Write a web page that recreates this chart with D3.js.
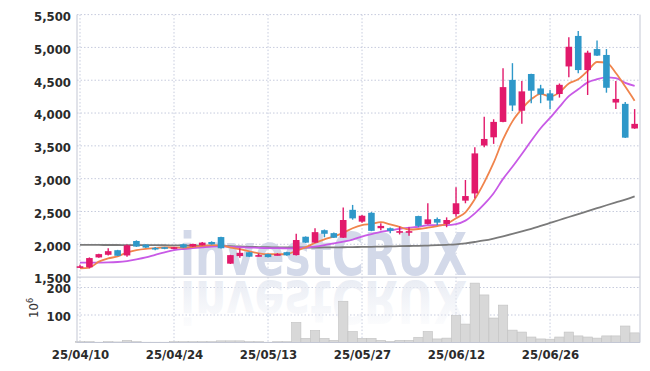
<!DOCTYPE html>
<html>
<head>
<meta charset="utf-8">
<script src="https://cdn.jsdelivr.net/npm/d3@7"></script>
<style>
  body { margin: 0; background: #fff; }
  svg { display: block; }
  .tick text { font-family: "DejaVu Sans Condensed", "DejaVu Sans", sans-serif; font-stretch: condensed; font-weight: bold; font-size: 13px; fill: #2b2b2b; }
</style>
</head>
<body>
<div id="chart"></div>
<script>
// trading days, 25/04/10 .. 25/07/09
var dates = ["25/04/10","25/04/11","25/04/14","25/04/15","25/04/16","25/04/17","25/04/18","25/04/21","25/04/22","25/04/23",
  "25/04/24","25/04/25","25/04/28","25/04/29","25/04/30","25/05/02","25/05/07","25/05/08","25/05/09","25/05/12",
  "25/05/13","25/05/14","25/05/15","25/05/16","25/05/19","25/05/20","25/05/21","25/05/22","25/05/23","25/05/26",
  "25/05/27","25/05/28","25/05/29","25/05/30","25/06/02","25/06/04","25/06/05","25/06/09","25/06/10","25/06/11",
  "25/06/12","25/06/13","25/06/16","25/06/17","25/06/18","25/06/19","25/06/20","25/06/23","25/06/24","25/06/25",
  "25/06/26","25/06/27","25/06/30","25/07/01","25/07/02","25/07/03","25/07/04","25/07/07","25/07/08","25/07/09"];

var open  = [1655,1650,1800,1840,1910,1830,2050,1995,1945,1955, 1930,2000,1965,1985,2035,2110,1705,1820,1878,1820,
             1850,1840,1880,1835,2115,2025,2215,2170,2100,2525, 2345,2480,2245,2245,2190,2185,2430,2310,2385,2310,
             2460,2665,2775,3505,3630,3865,4505,4035,4595,4375, 4300,4290,4710,5175,4655,4975,4885,4160,4140,3765];
var high  = [1690,1800,1855,1940,1915,1995,2060,2000,1960,1960, 1960,2010,2010,2035,2045,2115,1840,1940,1885,1860,
             1855,1865,1885,2160,2120,2245,2225,2180,2560,2600, 2445,2490,2320,2255,2270,2260,2435,2625,2410,2410,
             2870,2980,3480,3945,3905,4683,4760,4490,4600,4430, 4350,4450,5155,5250,4950,5105,4975,4490,4170,4060];
var low   = [1640,1634,1795,1830,1820,1811,1960,1945,1910,1925, 1925,1945,1960,1980,1995,1935,1700,1795,1805,1815,
             1800,1830,1825,1830,2020,2020,2107,2095,2095,2375, 2330,2200,2215,2170,2150,2130,2260,2300,2290,2260,
             2420,2625,2700,3480,3530,3860,4030,3835,4150,4150, 4060,4235,4545,4605,4275,4870,4310,4060,3620,3760];
var close = [1665,1790,1850,1895,1825,1985,1965,1950,1930,1935, 1955,1950,2005,2025,2000,1940,1835,1870,1811,1835,
             1805,1850,1832,2065,2025,2185,2160,2100,2370,2395, 2435,2205,2280,2205,2200,2200,2280,2380,2330,2370,
             2625,2735,3385,3605,3865,4395,4115,4330,4340,4285, 4190,4430,5010,4655,4920,4875,4385,4215,3625,3835];

// volume, millions of shares
var volume = [3,3,1,3,2,8,3,1,1,1, 3,3,3,3,3,6,6,6,3,3,
              1,3,3,73,15,44,15,8,150,40, 15,15,8,4,8,8,19,40,13,16,
              98,67,216,173,89,136,45,38,20,13, 12,20,38,24,20,16,24,24,60,35];

// moving averages
var ma5  = [1635,1645,1735,1785,1815,1875,1910,1930,1940,1953, 1950,1948,1958,1975,1987,1982,1950,1925,1892,1862,
            1848,1848,1852,1900,1955,2020,2075,2120,2175,2245, 2292,2310,2337,2304,2265,2225,2233,2253,2278,2312,
            2397,2488,2689,2944,3243,3597,3873,4062,4209,4293, 4252,4315,4451,4514,4641,4778,4769,4610,4404,4187];
var ma10 = [1720,1720,1721,1723,1730,1745,1770,1800,1840,1878, 1910,1928,1942,1955,1966,1967,1960,1955,1950,1946,
            1942,1940,1939,1942,1950,1965,1988,2015,2040,2072, 2118,2155,2190,2212,2235,2252,2267,2290,2292,2292,
            2308,2361,2471,2611,2778,2997,3181,3376,3577,3768, 3925,4094,4257,4362,4467,4515,4542,4531,4459,4414];
var ma60 = [1990,1990,1990,1989,1989,1988,1988,1987,1986,1985, 1984,1982,1980,1978,1976,1973,1970,1966,1962,1958,
            1955,1953,1952,1951,1951,1951,1952,1953,1955,1957, 1960,1962,1965,1968,1971,1974,1977,1981,1986,1992,
            2000,2015,2035,2058,2088,2122,2158,2196,2236,2280, 2325,2370,2416,2460,2505,2550,2595,2638,2680,2730];

var priceTicks = [1500,2000,2500,3000,3500,4000,4500,5000,5500];
var volTicks = [100,200];
var dateTicks = [0,10,20,30,40,50];

var width = 650, height = 371;
var plotLeft = 77, plotRight = 640, plotTop = 14.6, split = 277.1, plotBottom = 342.5;

var svg = d3.select("#chart").append("svg")
    .attr("width", width)
    .attr("height", height);

var x = d3.scaleLinear().domain([-0.32, 59.57]).range([plotLeft, plotRight]);
var y = d3.scaleLinear().domain([1500, 5500]).range([split, plotTop]);
var yv = d3.scaleLinear().domain([0, 200]).range([plotBottom, plotBottom - 55]);
var step = x(1) - x(0);

var up = "#e2196b", down = "#2e98c9", grid = "#c6cbdd";

// gridlines
var g = svg.append("g");
g.selectAll("line.hgrid")
    .data(priceTicks.slice(1))
  .enter().append("line")
    .attr("x1", plotLeft).attr("x2", plotRight)
    .attr("y1", function(d) { return y(d); }).attr("y2", function(d) { return y(d); })
    .attr("stroke", grid).attr("stroke-dasharray", "1.5,2");
g.selectAll("line.vgrid")
    .data(volTicks)
  .enter().append("line")
    .attr("x1", plotLeft).attr("x2", plotRight)
    .attr("y1", function(d) { return yv(d); }).attr("y2", function(d) { return yv(d); })
    .attr("stroke", grid).attr("stroke-dasharray", "1.5,2");
g.selectAll("line.xgrid")
    .data(dateTicks)
  .enter().append("line")
    .attr("x1", function(d) { return x(d); }).attr("x2", function(d) { return x(d); })
    .attr("y1", plotTop).attr("y2", plotBottom)
    .attr("stroke", grid).attr("stroke-dasharray", "1.5,2");

// watermark + reflection
var defs = svg.append("defs");
var fade = defs.append("linearGradient").attr("id", "fade")
    .attr("x1", 0).attr("y1", 0).attr("x2", 0).attr("y2", 1);
fade.append("stop").attr("offset", "0%").attr("stop-color", "#e8ebf3").attr("stop-opacity", 0);
fade.append("stop").attr("offset", "100%").attr("stop-color", "#e4e8f1").attr("stop-opacity", 1);

var wmFont = '"Liberation Sans Narrow", "DejaVu Sans Condensed", sans-serif';
svg.append("text")
    .attr("x", 180).attr("y", 275)
    .attr("textLength", 287).attr("lengthAdjust", "spacingAndGlyphs")
    .style("font-family", wmFont).style("font-weight", "bold").style("font-size", "58px")
    .attr("fill", "#d3d9e9")
    .text("investCRUX");
svg.append("g")
    .attr("transform", "translate(0," + (2 * split + 2) + ") scale(1,-1)")
  .append("text")
    .attr("x", 180).attr("y", 275)
    .attr("textLength", 287).attr("lengthAdjust", "spacingAndGlyphs")
    .style("font-family", wmFont).style("font-weight", "bold").style("font-size", "58px")
    .attr("fill", "url(#fade)")
    .text("investCRUX");

// volume bars
svg.append("g").selectAll("rect")
    .data(volume)
  .enter().append("rect")
    .attr("x", function(d, i) { return x(i) - step / 2; })
    .attr("width", step)
    .attr("y", function(d) { return yv(d); })
    .attr("height", function(d) { return plotBottom - yv(d); })
    .attr("fill", "#d8d8d8")
    .attr("stroke", "#c2c2c2")
    .attr("stroke-width", 0.6);

// frame
svg.append("line").attr("x1", plotLeft).attr("x2", plotLeft).attr("y1", plotTop).attr("y2", plotBottom).attr("stroke", "#c3c7d4");
svg.append("line").attr("x1", plotRight).attr("x2", plotRight).attr("y1", plotTop).attr("y2", plotBottom).attr("stroke", "#c3c7d4");
svg.append("line").attr("x1", plotLeft).attr("x2", plotRight).attr("y1", split).attr("y2", split).attr("stroke", "#c3c7d4");
svg.append("line").attr("x1", plotLeft).attr("x2", plotRight).attr("y1", plotBottom).attr("y2", plotBottom).attr("stroke", "#c3c7d4");

// moving average lines
function maLine(arr) {
  return d3.line()
    .x(function(d, i) { return x(i); })
    .y(function(d) { return y(d); })
    .curve(d3.curveMonotoneX)(arr);
}
svg.append("path").attr("d", maLine(ma60)).attr("fill", "none").attr("stroke", "#7a7a7a").attr("stroke-width", 1.8);
svg.append("path").attr("d", maLine(ma10)).attr("fill", "none").attr("stroke", "#c85ae6").attr("stroke-width", 1.8);
svg.append("path").attr("d", maLine(ma5)).attr("fill", "none").attr("stroke", "#f0844c").attr("stroke-width", 1.8);

// candles
var candles = svg.append("g").selectAll("g")
    .data(d3.range(close.length))
  .enter().append("g");
candles.append("line")
    .attr("x1", function(i) { return x(i); }).attr("x2", function(i) { return x(i); })
    .attr("y1", function(i) { return y(high[i]); }).attr("y2", function(i) { return y(low[i]); })
    .attr("stroke", function(i) { return close[i] >= open[i] ? up : down; })
    .attr("stroke-width", 1.4);
candles.append("rect")
    .attr("x", function(i) { return x(i) - 3.3; })
    .attr("width", 6.6)
    .attr("y", function(i) { return y(Math.max(open[i], close[i])); })
    .attr("height", function(i) { return Math.max(1.6, Math.abs(y(open[i]) - y(close[i]))); })
    .attr("fill", function(i) { return close[i] >= open[i] ? up : down; });

// axes
svg.append("g")
    .attr("transform", "translate(" + plotLeft + ",0)")
    .call(d3.axisLeft(y).tickValues(priceTicks).tickFormat(d3.format(",")).tickSize(0).tickPadding(6))
    .call(function(a) { a.select(".domain").remove(); a.selectAll("text").attr("dy", "0.45em"); });
svg.append("g")
    .attr("transform", "translate(" + plotLeft + ",0)")
    .call(d3.axisLeft(yv).tickValues(volTicks).tickSize(0).tickPadding(6))
    .call(function(a) { a.select(".domain").remove(); a.selectAll("text").attr("dy", "0.42em"); });
svg.append("g")
    .attr("transform", "translate(0," + plotBottom + ")")
    .call(d3.axisBottom(x).tickValues(dateTicks).tickFormat(function(i) { return dates[i]; }).tickSize(0).tickPadding(7))
    .call(function(a) { a.select(".domain").remove(); });

// volume unit
var unit = svg.append("text")
    .attr("transform", "translate(38,318) rotate(-90)")
    .style("font-family", '"DejaVu Sans Condensed", "DejaVu Sans", sans-serif')
    .style("font-size", "13px")
    .attr("fill", "#333");
unit.append("tspan").text("10");
unit.append("tspan").attr("dy", "-5").style("font-size", "9px").text("6");
</script>
</body>
</html>
